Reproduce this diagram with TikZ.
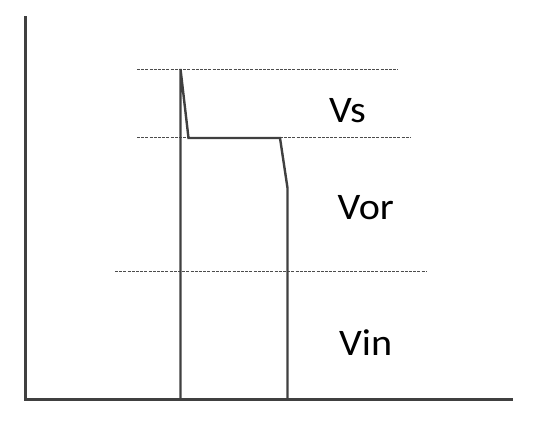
\documentclass[tikz,border=0pt]{standalone}
\usepackage{fontspec}
\setmainfont{Carlito}
\begin{document}
\begin{tikzpicture}[x=1pt,y=-1pt,
  axisline/.style={draw=black!75, line width=2.4pt},
  wave/.style={draw=black!75, line width=2.4pt, line join=miter},
  level/.style={draw=black!70, line width=0.9pt, dash pattern=on 3pt off 1.2pt},
  lbl/.style={inner sep=0pt, anchor=base west, xscale=1.07, font=\fontsize{37.5}{40}\selectfont}]
\useasboundingbox (0,0) rectangle (538,421);
% axes
\coordinate (top) at (25.3,16);
\coordinate (origin) at (25.3,399.5);
\coordinate (right) at (513,399.5);
\draw[axisline] (top) -- (origin) -- (right);
% level lines
\coordinate (l1a) at (137,69.3);
\coordinate (l1b) at (398,69.3);
\coordinate (l2a) at (137,137.5);
\coordinate (l2b) at (411,137.5);
\coordinate (l3a) at (115,271);
\coordinate (l3b) at (427,271);
\draw[level] (l1a) -- (l1b);
\draw[level] (l2a) -- (l2b);
\draw[level] (l3a) -- (l3b);
% waveform
\coordinate (w0) at (180.5,399.5);
\coordinate (w1) at (180.5,69);
\coordinate (w2) at (188.5,138);
\coordinate (w3) at (280,138);
\coordinate (w4) at (287.5,188);
\coordinate (w5) at (287.5,399.5);
\draw[wave] (w0) -- (w1) -- (w2) -- (w3) -- (w4) -- (w5);
% labels
\node[lbl] (vs) at (329,122) {Vs};
\node[lbl] (vor) at (337.5,219.5) {Vor};
\node[lbl] (vin) at (339,355) {Vin};
\end{tikzpicture}
\end{document}
